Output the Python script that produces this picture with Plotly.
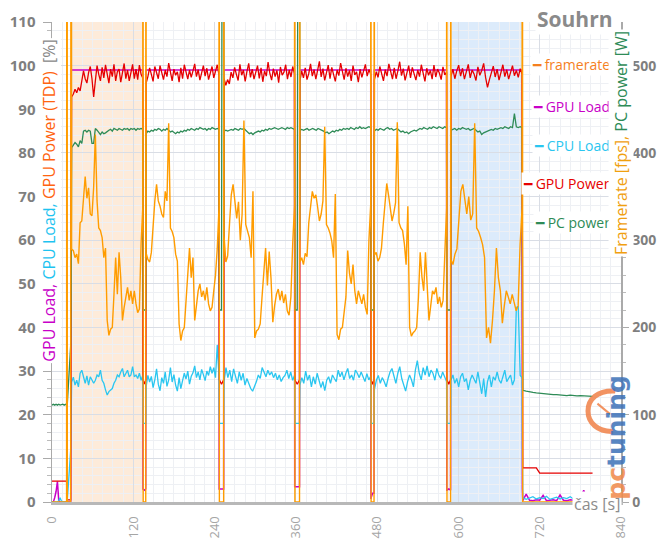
import numpy as np
import plotly.graph_objects as go

# ---------------- data ----------------
RUN_START = [29, 139, 254, 366, 476, 589]
RUN_END = [134, 246.5, 358, 470.5, 582.5, 694]

PRE_T = [0, 2, 4, 6, 8, 10, 12, 14, 16, 18, 20, 21.5]
START_T = [22.3, 22.6, 27.6, 28.3]
END_T = [694.4, 694.8]
POST_T = [695, 700, 705, 710, 715, 720, 725, 730, 735, 740, 745, 750, 755, 760,
          765, 770, 775, 780, 785, 790, 795, 798]
FPS_POST_T = [769]

# framerate [fps]
fps_pre = [0] * 12
fps_start = [2000, 0, 0, 2000]
fps_r1 = [290, 288, 280, 284, 273, 320, 322, 345, 373, 348, 360, 330, 328, 361, 421, 345, 314, 311, 303, 280, 291,
          208, 191, 198, 200, 238, 280, 238, 286, 257, 208, 223, 235, 246, 231, 242, 227, 242, 227, 217, 221, 296, 337]
fps_r2 = [285, 278, 275, 286, 322, 345, 364, 345, 339, 330, 326, 356, 345, 434, 314, 310, 303, 284, 276, 204, 185,
          196, 200, 235, 257, 291, 257, 280, 208, 227, 242, 250, 235, 242, 231, 246, 227, 219, 223, 242, 260, 290, 337]
fps_r3 = [305, 275, 282, 318, 352, 364, 340, 325, 344, 300, 330, 437, 318, 310, 303, 280, 356, 188, 196, 198, 204,
          234, 262, 291, 248, 287, 256, 206, 225, 238, 244, 231, 242, 228, 238, 219, 214, 235, 296, 340]
fps_r4 = [275, 280, 272, 285, 281, 320, 340, 356, 348, 352, 338, 322, 330, 345, 430, 318, 314, 308, 299, 280, 353,
          192, 186, 198, 200, 220, 235, 288, 262, 250, 272, 242, 227, 242, 235, 227, 238, 223, 215, 300, 341]
fps_r5 = [283, 286, 276, 280, 291, 318, 345, 365, 352, 339, 322, 331, 343, 435, 320, 314, 311, 296, 272, 339, 200,
          190, 194, 196, 200, 234, 286, 258, 242, 286, 242, 208, 225, 242, 238, 246, 227, 235, 223, 231, 284, 337]
fps_r6 = [278, 272, 284, 290, 318, 356, 364, 345, 330, 350, 323, 330, 434, 314, 310, 303, 295, 280, 188, 200, 182,
          208, 242, 291, 257, 242, 205, 225, 242, 235, 227, 238, 227, 219, 225, 296, 337]
fps_gaps = [[2000, 0, 0, 0, 2000]] * 5
fps_end = [2000, 0]
fps_post = [0]

# GPU load [%]
gl_pre = [0, 0, 1.0, 2.4, 4.7, 0.3, 0, 0, 0, 0, 0, 0]
gl_start = [0, 0, 0, 99]
gl_r1 = [99, 99]
gl_r2 = [99, 99]
gl_r3 = [99, 99]
gl_r4 = [99, 99]
gl_r5 = [99, 99]
gl_r6 = [99, 99]
gl_gaps = [[3, 3, 2.7, 3, 99], [3, 3, 3, 3, 99], [3.5, 3.5, 3.5, 3.5, 99], [0.7, 1.0, 2, 2, 99], [2.7, 2.7, 3, 2.7, 99]]
gl_end = [3, 0.3]
gl_post = [0.3, 1.8, 0.4, 0.3, 0.5, 0.4, 1.5, 0.3, 0.4, 0.5, 0.3, 1.6, 0.4, 0.3, 0.5, 0.4, 0.3, 1.0, 2.7, 0.5, 0.4, 0.3]

# CPU load [%]
cpu_pre = [0, 0, 0, 0, 0, 0.3, 1.0, 0.2, 0, 0, 0, 0]
cpu_start = [0.3, 0.3, 12, 22]
cpu_r1 = [27.5, 28.6, 26.8, 27.9, 26.4, 29.5, 30.2, 28.7, 27.2, 28.9, 26.8, 28.7, 27.9, 27.2, 27.9, 29.1, 28.7, 30.2,
          27.9, 27.2, 25.7, 24.5, 25.3, 25.7, 26.0, 27.2, 27.9, 29.1, 28.7, 29.8, 30.6, 28.7, 29.5, 30.2, 28.7, 29.1,
          31.0, 28.7, 29.1, 28.3, 29.5, 27.9, 29.0]
cpu_r2 = [26.5, 29.0, 27.5, 28.8, 26.2, 28.0, 30.5, 27.0, 25.5, 28.5, 27.2, 29.8, 26.5, 28.0, 30.8, 27.5, 29.2, 26.8,
          25.4, 28.5, 26.0, 27.8, 29.5, 28.2, 30.0, 27.0, 28.8, 29.6, 31.2, 28.5, 29.8, 28.0, 30.4, 29.2, 27.8, 30.0,
          29.0, 31.0, 29.5, 30.8, 28.5, 36.0, 29.0]
cpu_r3 = [27.6, 30.8, 28.5, 30.2, 27.6, 30.5, 28.7, 27.2, 29.8, 27.9, 29.5, 26.8, 28.3, 27.2, 26.0, 25.4, 26.4, 27.6,
          29.1, 28.3, 30.8, 29.5, 28.7, 30.2, 29.1, 29.8, 28.5, 29.5, 28.0, 29.1, 27.6, 28.5, 29.0, 30.2, 28.3, 29.8,
          27.9, 29.0]
cpu_r4 = [26.8, 28.5, 27.2, 30.0, 27.9, 29.1, 26.4, 28.7, 27.0, 29.5, 28.0, 26.2, 27.6, 25.5, 27.9, 28.7, 27.2, 29.1,
          28.3, 27.6, 30.2, 28.7, 29.8, 28.0, 29.5, 30.6, 28.3, 29.1, 27.9, 30.2, 29.5, 28.5, 29.8, 28.7, 27.6, 29.4,
          28.0, 28.8]
cpu_r5 = [25.8, 27.9, 29.0, 27.2, 28.5, 27.6, 26.4, 28.3, 29.8, 30.6, 28.7, 27.2, 29.5, 31.0, 28.3, 26.8, 25.4, 27.6,
          29.1, 28.0, 26.4, 30.2, 32.4, 29.5, 28.0, 30.8, 29.1, 31.2, 28.7, 30.2, 29.5, 27.9, 30.6, 29.1, 28.3, 29.8,
          28.7, 27.6]
cpu_r6 = [27.9, 29.1, 27.2, 28.3, 26.4, 28.7, 29.5, 27.6, 28.3, 25.7, 27.9, 29.1, 28.0, 27.2, 29.8, 26.8, 24.8, 28.3,
          24.1, 27.6, 29.1, 26.4, 28.7, 27.9, 29.8, 28.0, 27.2, 28.7, 30.2, 27.6, 28.3, 29.1, 26.8, 28.0, 44.6, 44.8,
          29.0, 28.5]
cpu_gaps = [[20, 18, 18, 18, 22]] * 5
cpu_end = [12, 1.0]
cpu_post = [1.0, 0.6, 0.9, 1.2, 0.7, 1.0, 0.8, 1.3, 0.6, 0.9, 1.1, 0.7, 1.0, 0.8, 1.2, 0.7, 1.0, 1.4, 0.8, 1.1, 0.9, 1.0]

# GPU power [% TDP]
gp_pre = [4.8] * 12
gp_start = [0.5, 0.5, 0.5, 60]
gp_r1 = [92.8, 93.5, 94.6, 93.8, 95.0, 94.2, 96.5, 98.8, 97.0, 96.0, 98.4, 99.8, 97.0, 92.8, 96.5, 100.0, 98.0, 96.5,
         99.6, 97.2, 100.2, 98.0, 96.0, 99.2, 97.5, 100.3, 96.5, 98.6, 99.2, 96.2, 98.0, 100.5, 97.0, 99.0, 96.5, 98.7,
         100.3, 97.0, 99.2, 96.8, 100.1, 98.0, 97.2]
gp_r2 = [96.0, 97.5, 99.5, 98.0, 96.4, 99.8, 98.2, 97.0, 100.0, 98.5, 96.8, 99.0, 97.5, 100.6, 98.0, 96.5, 99.2, 97.8,
         98.6, 96.2, 99.5, 97.0, 100.2, 98.4, 96.9, 99.0, 97.3, 98.8, 100.4, 97.5, 99.1, 96.7, 98.3, 100.0, 97.6, 99.4,
         96.8, 98.5, 99.8, 97.2, 98.6, 100.2, 97.9]
gp_r3 = [97.0, 95.5, 96.8, 95.8, 98.5, 97.2, 99.6, 98.0, 96.6, 100.3, 97.8, 99.0, 96.4, 98.7, 100.5, 97.3, 99.2, 96.9,
         98.4, 100.0, 97.1, 99.5, 96.3, 98.8, 97.6, 100.8, 98.2, 96.7, 99.3, 97.5, 98.9, 96.1, 99.7, 97.8, 98.5, 100.2,
         96.9, 99.0, 97.4, 99.8, 98.1]
gp_r4 = [96.5, 98.8, 97.2, 99.5, 96.8, 98.2, 100.4, 97.6, 99.1, 96.9, 98.7, 101.0, 97.4, 99.3, 96.6, 98.5, 100.1, 97.0,
         99.6, 98.0, 96.4, 99.0, 97.7, 100.6, 98.3, 96.8, 99.4, 97.5, 98.9, 96.5, 100.0, 97.9, 98.6, 96.2, 99.2, 97.3,
         98.8, 100.3, 97.6, 99.1, 98.0]
gp_r5 = [96.8, 98.6, 97.3, 99.8, 98.0, 96.5, 99.1, 97.6, 100.4, 98.2, 96.9, 99.5, 97.0, 98.8, 100.9, 97.7, 99.3, 96.6,
         98.4, 100.0, 97.2, 99.6, 98.1, 96.7, 99.0, 97.5, 100.2, 98.6, 96.4, 99.4, 97.8, 98.9, 96.9, 100.1, 97.4, 99.2,
         98.3, 96.8, 99.7, 97.9, 98.5]
gp_r6 = [97.5, 99.2, 97.0, 98.8, 100.1, 97.6, 99.4, 96.9, 98.5, 100.3, 97.2, 99.0, 98.1, 96.6, 99.7, 97.8, 98.9, 100.5,
         97.3, 95.0, 96.8, 98.6, 99.9, 97.4, 99.2, 96.7, 98.8, 100.2, 97.5, 99.1, 96.9, 98.4, 100.0, 97.7, 98.9, 97.3,
         99.3, 98.1]
gp_gaps = [[30, 28, 27, 28, 60]] * 5
gp_end = [8.0, 7.8]
gp_post = [7.8, 7.8, 7.8, 7.8, 7.8, 6.6, 6.6, 6.6, 6.6, 6.6, 6.6, 6.6, 6.6, 6.6, 6.6, 6.6, 6.6, 6.6, 6.6, 6.6, 6.6, 6.6]

# PC power [W]
pc_pre = [111, 112, 111, 112, 111, 112, 111, 112, 112, 111, 112, 111]
pc_start = [111, 112, 180, 250]
pc_r1 = [406, 409, 412, 410, 407, 414, 411, 425, 426, 424, 426, 425, 411, 411, 428, 426, 423, 421, 424, 422, 423, 425,
         426, 427, 425, 428, 427, 426, 428, 427, 426, 428, 427, 428, 426, 428, 427, 428, 426, 428, 427, 428, 427]
pc_r2 = [422, 425, 424, 426, 425, 427, 426, 428, 427, 425, 427, 426, 428, 426, 424, 425, 423, 422, 424, 423, 425, 424,
         426, 425, 427, 426, 428, 427, 426, 428, 427, 429, 428, 427, 428, 426, 428, 427, 429, 428, 427, 428, 427]
pc_r3 = [425, 426, 425, 426, 427, 426, 428, 427, 426, 428, 427, 428, 426, 424, 422, 423, 421, 423, 424, 425, 424, 426,
         425, 427, 426, 428, 427, 428, 429, 428, 427, 428, 429, 428, 427, 429, 428, 429, 428, 427]
pc_r4 = [426, 427, 426, 427, 428, 426, 427, 428, 427, 426, 428, 427, 426, 425, 423, 424, 422, 424, 425, 424, 426, 425,
         427, 426, 428, 427, 428, 427, 429, 428, 427, 429, 428, 430, 428, 429, 428, 429, 430, 429]
pc_r5 = [425, 427, 426, 428, 427, 426, 428, 429, 427, 428, 426, 427, 428, 426, 424, 425, 423, 424, 422, 424, 425, 426,
         425, 427, 428, 427, 429, 428, 427, 429, 428, 430, 429, 428, 430, 429, 428, 430, 429]
pc_r6 = [426, 427, 428, 426, 428, 427, 429, 428, 427, 428, 426, 427, 428, 426, 424, 425, 421, 423, 424, 425, 426, 427,
         426, 428, 427, 428, 429, 428, 430, 429, 428, 430, 429, 445, 430, 429, 430, 429]
pc_gaps = [[230, 220, 220, 220, 300], [230, 220, 220, 2000, 300], [230, 220, 220, 2000, 300],
           [230, 220, 220, 220, 300], [230, 220, 220, 220, 300]]
pc_end = [200, 129]
pc_post = [128, 127, 126, 125.5, 125, 124.5, 124, 123.5, 123.5, 123, 123, 122.5, 122.5, 122, 122.5, 122, 121.5, 122,
           121.5, 121.5, 121, 121]

# ---------------- styling ----------------
C_FPS = '#ff9c00'
C_FPS_LEG = '#f5801e'
C_GL = '#c800c8'
C_CPU = '#2ac6f0'
C_GP = '#e60000'
C_PC = '#2e8b57'
FONT = 'Open Sans'


def assemble(pre, start, runs, gaps, end, post, post_t=POST_T):
    x = list(PRE_T) + list(START_T)
    y = list(pre) + list(start)
    for i, r in enumerate(runs):
        s, e = RUN_START[i], RUN_END[i]
        x += list(np.linspace(s, e, len(r)))
        y += list(r)
        if i < len(gaps):
            ns = RUN_START[i + 1]
            x += [e + 0.3, e + 0.6, (e + ns) / 2, ns - 0.6, ns - 0.3]
            y += list(gaps[i])
    x += END_T + list(post_t)
    y += list(end) + list(post)
    return x, y


series = [
    ('GPU Load', C_GL, 'y', 1.5,
     assemble(gl_pre, gl_start, [gl_r1, gl_r2, gl_r3, gl_r4, gl_r5, gl_r6], gl_gaps, gl_end, gl_post)),
    ('CPU Load', C_CPU, 'y', 1.3,
     assemble(cpu_pre, cpu_start, [cpu_r1, cpu_r2, cpu_r3, cpu_r4, cpu_r5, cpu_r6], cpu_gaps, cpu_end, cpu_post)),
    ('PC power', C_PC, 'y2', 1.3,
     assemble(pc_pre, pc_start, [pc_r1, pc_r2, pc_r3, pc_r4, pc_r5, pc_r6], pc_gaps, pc_end, pc_post)),
    ('GPU Power', C_GP, 'y', 1.3,
     assemble(gp_pre, gp_start, [gp_r1, gp_r2, gp_r3, gp_r4, gp_r5, gp_r6], gp_gaps, gp_end, gp_post)),
    ('framerate', C_FPS, 'y2', 1.4,
     assemble(fps_pre, fps_start, [fps_r1, fps_r2, fps_r3, fps_r4, fps_r5, fps_r6], fps_gaps, fps_end, fps_post,
              FPS_POST_T)),
]

fig = go.Figure()
for name, col, ax, w, (xs, ys) in series:
    fig.add_trace(go.Scatter(x=xs, y=ys, yaxis=ax, mode='lines', name=name,
                             line=dict(color=col, width=w), showlegend=False, hoverinfo='skip'))

shapes = [
    dict(type='rect', xref='x', yref='paper', x0=RUN_START[0], x1=RUN_END[0], y0=0, y1=1,
         fillcolor='#fdebda', line=dict(width=0), layer='below'),
    dict(type='rect', xref='x', yref='paper', x0=RUN_START[5] + 0.5, x1=RUN_END[5], y0=0, y1=1,
         fillcolor='#dcebfb', line=dict(width=0), layer='below'),
]
# pctuning logo arc (decoration)
cx, cy, rx, ry, k = 0.9789, 0.1896, 0.0369, 0.04375, 0.5523
arc = (f"M {cx + 0.3 * rx},{cy + 0.95 * ry} C {cx - k * rx},{cy + ry} {cx - rx},{cy + k * ry} {cx - rx},{cy} "
       f"C {cx - rx},{cy - k * ry} {cx - k * rx},{cy - ry} {cx + 0.2 * rx},{cy - 0.97 * ry}")
shapes.append(dict(type='path', xref='paper', yref='paper', path=arc,
                   line=dict(color='rgba(240,128,70,0.85)', width=5), layer='above'))
shapes.append(dict(type='line', xref='paper', yref='paper', x0=cx - 0.55 * rx, y0=cy + 0.35 * ry,
                   x1=cx + 0.05 * rx, y1=cy - 0.15 * ry, line=dict(color='rgba(240,128,70,0.85)', width=2)))

legend_items = [('framerate', C_FPS_LEG, 0.912), ('GPU Load', C_GL, 0.8235), ('CPU Load', C_CPU, 0.742),
                ('GPU Power', C_GP, 0.664), ('PC power', C_PC, 0.582)]
annotations = []
for txt, col, yy in legend_items:
    annotations.append(dict(text=f'━ {txt}', x=0.984, y=yy, xref='paper', yref='paper', xanchor='right',
                            yanchor='middle', showarrow=False, bgcolor='white', borderpad=1,
                            font=dict(family=FONT, size=14, color=col)))

left_title = ('<span style="color:#c800c8">GPU Load, </span>'
              '<span style="color:#1ec3f0">CPU Load, </span>'
              '<span style="color:#ff6410">GPU Power (TDP)</span>'
              '<span style="color:#888888">  [%]</span>')
annotations.append(dict(text=left_title, textangle=-90, x=-0.006, y=0.627, xref='paper', yref='paper',
                        xanchor='center', yanchor='middle', showarrow=False, bgcolor='white',
                        font=dict(family=FONT, size=16)))
right_title = ('<span style="color:#f0a010">Framerate [fps], </span>'
               '<span style="color:#2e8b57">PC power [W]</span>')
annotations.append(dict(text=right_title, textangle=-90, x=1.0, y=0.748, xref='paper', yref='paper',
                        xanchor='center', yanchor='middle', showarrow=False, bgcolor='white',
                        font=dict(family=FONT, size=16)))
annotations.append(dict(text='<b>Souhrn</b>', x=0.919, y=1.006, xref='paper', yref='paper', xanchor='center',
                        yanchor='middle', showarrow=False, bgcolor='white',
                        font=dict(family=FONT, size=21, color='#8a8a8a')))
annotations.append(dict(text='čas [s]', x=0.958, y=-0.004, xref='paper', yref='paper', xanchor='center',
                        yanchor='middle', showarrow=False, bgcolor='white',
                        font=dict(family=FONT, size=16, color='#8c8c8c')))
annotations.append(dict(text='<b><span style="color:#f08848">pc</span><span style="color:#3d72b8">tuning</span></b>',
                        textangle=-90, x=0.992, y=0.135, xref='paper', yref='paper', xanchor='center',
                        yanchor='middle', showarrow=False, opacity=0.85,
                        font=dict(family='DejaVu Sans', size=25)))

grid_major = '#d9dde5'
grid_minor = '#eef0f4'
fig.update_layout(
    width=663, height=541,
    margin=dict(l=52, r=42, t=22, b=39),
    plot_bgcolor='white', paper_bgcolor='white',
    showlegend=False,
    font=dict(family=FONT, color='#888'),
    shapes=shapes, annotations=annotations,
    xaxis=dict(range=[0, 840], tickvals=list(range(0, 841, 120)), tickangle=-90, ticks='',
               ticklabelstandoff=6, automargin=False,
               showgrid=True, gridcolor=grid_major, gridwidth=1,
               minor=dict(dtick=15, showgrid=True, gridcolor=grid_minor),
               showline=True, linecolor='#b8b8b8', linewidth=3, zeroline=False, layer='below traces',
               tickfont=dict(family=FONT, size=13, color='#a5a5a5')),
    yaxis=dict(range=[0, 110], dtick=10, ticks='outside', ticklen=8, tickcolor='#aaa',
               ticklabelstandoff=4, automargin=False,
               showgrid=True, gridcolor=grid_major,
               minor=dict(dtick=2, showgrid=True, gridcolor=grid_minor, ticks='outside', ticklen=4,
                          tickcolor='#bbb'),
               showline=True, linecolor='#aaa', linewidth=1.5, zeroline=False,
               tickfont=dict(family=FONT, size=15, color='#7f7f7f', weight='bold')),
    yaxis2=dict(range=[0, 550], dtick=100, overlaying='y', side='right', showgrid=False,
                ticks='outside', ticklen=6, tickcolor='#aaa', ticklabelstandoff=1, automargin=False,
                minor=dict(dtick=20, ticks='outside', ticklen=3, tickcolor='#bbb'),
                showline=True, linecolor='#aaa', linewidth=1.5, zeroline=False,
                tickfont=dict(family=FONT, size=14, color='#7f7f7f', weight='bold')),
)

fig.write_html('out.html', config={'displayModeBar': False, 'staticPlot': True},
               post_script="document.body.style.margin='0';document.body.style.padding='0';"
                           "document.body.style.overflow='hidden';")
